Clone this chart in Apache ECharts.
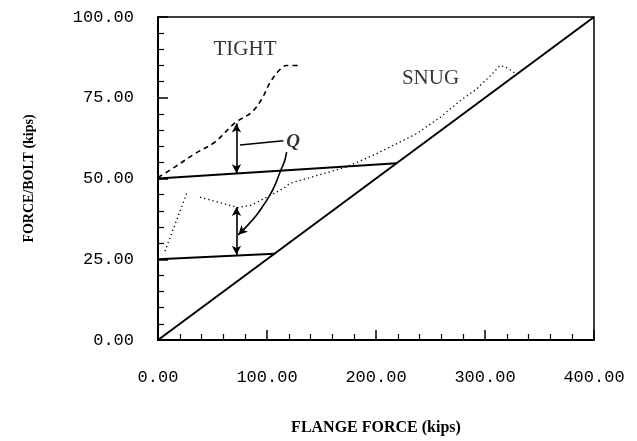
<!DOCTYPE html>
<html>
<head>
<meta charset="utf-8">
<script src="https://cdn.jsdelivr.net/npm/echarts@6/dist/echarts.min.js"></script>
<style>html,body{margin:0;padding:0;background:#fff}#c{width:637px;height:441px}</style>
</head>
<body>
<div id="c"></div>
<script>
// ---- data (kips) ----
const diagX = [0, 400];
const diagY = [0, 100];
const upperX = [0, 219];
const upperY = [50, 54.75];
const lowerX = [0, 107];
const lowerY = [25, 26.7];
const tightX = [0, 15.6, 34, 52.3, 70.6, 86, 95, 102.8, 110.4, 118, 128.7];
const tightY = [50.3, 53.6, 57.7, 61.3, 67.2, 70.5, 74.5, 79.7, 83.2, 85, 85];
const snugX = [6.4, 26.3, null, 38.5, 73.7, 86, 98, 115, 121, 173, 200.6, 237, 258.7, 277, 292, 304.6, 313.8, 320, 329];
const snugY = [27.5, 45.4, null, 44.2, 41, 41.8, 43.9, 46.9, 48.5, 53.6, 57.7, 63.8, 68.9, 74, 77.6, 81.7, 85, 84.3, 82.3];
// annotations
const arrowUpper = [[72, 51.6], [72, 67]];
const arrowLower = [[72, 26.4], [72, 41.2]];
const qLeaderX = [75.2, 115];
const qLeaderY = [60.4, 61.7];
const qCurveX = [118, 116, 112, 108, 102.8, 96.5, 90.5, 82, 73.7];
const qCurveY = [58.2, 55.3, 52, 48.5, 44.9, 41.6, 38.7, 35.4, 32.6];
const qHead = [[77, 33.7], [73.7, 32.6]];
const labels = [
  {name: 'TIGHT', x: 79.8, y: 89.9, size: 21, style: 'normal', weight: 'normal'},
  {name: 'SNUG', x: 250, y: 81, size: 21, style: 'normal', weight: 'normal'},
  {name: 'Q', x: 124, y: 61.3, size: 19, style: 'italic', weight: 'bold'}
];
const xTicks = [0, 100, 200, 300, 400];
const yTicks = [0, 25, 50, 75, 100];

const zip = (xs, ys) => xs.map((x, i) => (x === null ? [null, null] : [x, ys[i]]));
const solid = (xs, ys, w) => ({
  type: 'line', data: zip(xs, ys), symbol: 'none', silent: true,
  lineStyle: {color: '#000', width: w || 2}
});

const chart = echarts.init(document.getElementById('c'), null, {renderer: 'canvas'});
chart.setOption({
  animation: false,
  backgroundColor: '#fff',
  grid: {left: 158, right: 43, top: 17, bottom: 98, show: true, borderColor: '#000', borderWidth: 1.5},
  xAxis: {
    type: 'value', min: xTicks[0], max: xTicks[xTicks.length - 1], interval: 100,
    name: 'FLANGE FORCE (kips)', nameLocation: 'middle', nameGap: 80,
    nameTextStyle: {fontFamily: 'Liberation Serif', fontWeight: 'bold', fontSize: 16, color: '#000'},
    axisLine: {lineStyle: {color: '#000', width: 2}},
    axisTick: {inside: true, length: 10, lineStyle: {color: '#000', width: 1.5}},
    minorTick: {show: true, splitNumber: 5, length: 6, lineStyle: {color: '#000', width: 1.2}},
    splitLine: {show: false},
    axisLabel: {margin: 29, fontFamily: 'Liberation Mono', fontSize: 17, color: '#000',
      formatter: v => v.toFixed(2)}
  },
  yAxis: {
    type: 'value', min: yTicks[0], max: yTicks[yTicks.length - 1], interval: 25,
    name: 'FORCE/BOLT (kips)', nameLocation: 'middle', nameGap: 122,
    nameTextStyle: {fontFamily: 'Liberation Serif', fontWeight: 'bold', fontSize: 14, color: '#000'},
    axisLine: {lineStyle: {color: '#000', width: 2}},
    axisTick: {inside: true, length: 10, lineStyle: {color: '#000', width: 1.5}},
    minorTick: {show: true, splitNumber: 5, length: 6, lineStyle: {color: '#000', width: 1.2}},
    splitLine: {show: false},
    axisLabel: {margin: 24, fontFamily: 'Liberation Mono', fontSize: 17, color: '#000',
      formatter: v => v.toFixed(2)}
  },
  series: [
    solid(diagX, diagY),
    solid(upperX, upperY),
    solid(lowerX, lowerY),
    {
      type: 'line', data: zip(tightX, tightY), symbol: 'none', smooth: 0.35, silent: true,
      lineStyle: {color: '#000', width: 1.6, type: [5, 4]}
    },
    {
      type: 'line', data: zip(snugX, snugY), symbol: 'none', connectNulls: false, silent: true,
      lineStyle: {color: '#000', width: 1.3, type: [1.3, 3]}
    },
    solid(qLeaderX, qLeaderY, 1.5),
    {
      type: 'line', data: zip(qCurveX, qCurveY), symbol: 'none', smooth: 0.4, silent: true,
      lineStyle: {color: '#000', width: 1.6}
    },
    {
      type: 'line', data: [], silent: true,
      markLine: {
        silent: true, animation: false, label: {show: false},
        symbol: ['arrow', 'arrow'], symbolSize: [7, 9],
        lineStyle: {color: '#000', width: 1.6, type: 'solid'},
        data: [
          [{coord: arrowUpper[0]}, {coord: arrowUpper[1]}],
          [{coord: arrowLower[0]}, {coord: arrowLower[1]}],
          [{coord: qHead[0], symbol: 'none'}, {coord: qHead[1], symbol: 'arrow'}]
        ]
      }
    },
    {
      type: 'scatter', symbolSize: 0, silent: true,
      data: labels.map(l => ({
        value: [l.x, l.y], name: l.name,
        label: {show: true, position: 'inside', formatter: l.name, color: '#000',
          fontFamily: 'Liberation Serif', fontSize: l.size, fontStyle: l.style, fontWeight: l.weight}
      }))
    }
  ]
});
</script>
</body>
</html>
